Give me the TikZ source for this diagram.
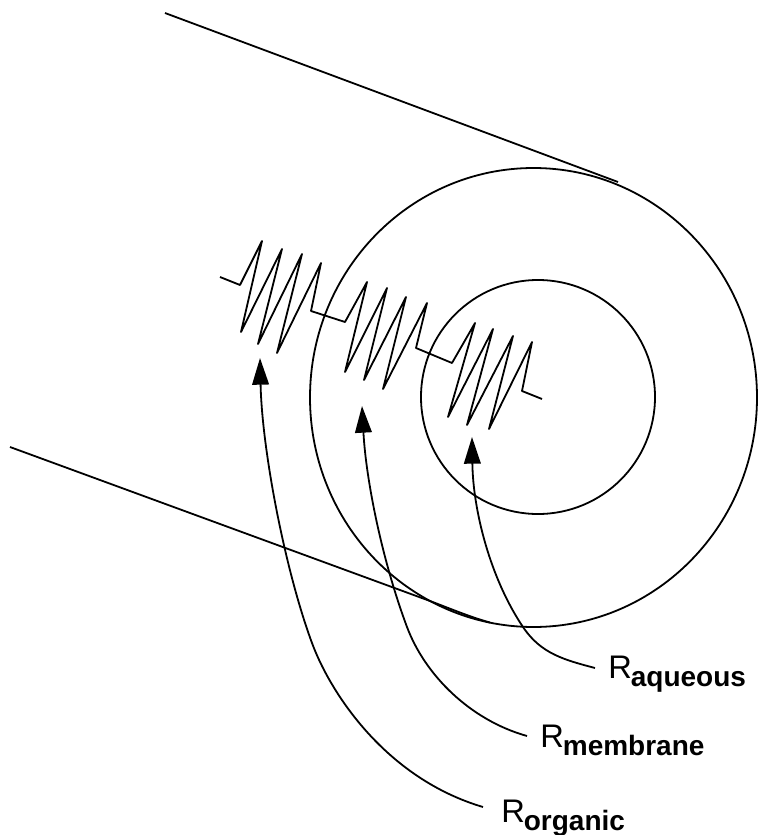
\documentclass[tikz,border=0pt]{standalone}
\usepackage{fontspec}
\setmainfont{Liberation Sans}
\usetikzlibrary{arrows.meta}
\tikzset{
  px/.style={x=0.75pt,y=-0.75pt},
  ink/.style={draw=black,line width=1.35pt,line join=round},
  pointer/.style={draw=black,line width=1.35pt,{Triangle[length=20pt,width=12.5pt,fill=black]}-},
  lab/.style={anchor=base west,inner sep=0pt,font=\fontsize{24.5}{28}\selectfont}
}
\newcommand{\labtext}[1]{R\kern-0.75pt\raisebox{-6pt}{\fontsize{21}{24}\selectfont\textbf{#1}}}
\begin{document}
\begin{tikzpicture}[px]
\useasboundingbox (0,0) rectangle (768,835);
% circles
\draw[ink] (533.5,397.5) ellipse [x radius=223.5,y radius=229.5];
\draw[ink] (538,397) ellipse [x radius=117,y radius=117];
% cylinder edges
\draw[ink] (165,13) -- (618,182);
\draw[ink] (10,447) -- (430,601) .. controls (450,608.5) and (470,617) .. (490,622.5);
% springs
\draw[ink] (220,277) -- (240,285) -- (262,241) -- (241,332) -- (282,249) -- (258,344) -- (302,254) -- (277,353) -- (321,263) -- (311,311) -- (345,322)
  -- (367,282) -- (345,372) -- (387,288) -- (364,380) -- (406,297) -- (383,389) -- (427,303) -- (416,348) -- (452,363)
  -- (475,323) -- (448,417) -- (493,329) -- (467,425) -- (513,336) -- (489,429) -- (532,342) -- (522,391) -- (542,399);
% labels
\node[lab] (raq) at (608,678) {\labtext{aqueous}};
\node[lab] (rme) at (540,747) {\labtext{membrane}};
\node[lab] (ror) at (501,822) {\labtext{organic}};
% targets and tails
\coordinate (taq) at (472,437);
\coordinate (tme) at (362,406);
\coordinate (tor) at (260,358);
\coordinate (eaq) at (595,668);
\coordinate (eme) at (527,736);
\coordinate (eor) at (483,807);
\draw[pointer] (taq) .. controls (473,510) and (490,578) .. (523,627) .. controls (541,654) and (565,660) .. (eaq);
\draw[pointer] (tme) .. controls (366,480) and (382,560) .. (407,627) .. controls (425,675) and (470,720) .. (eme);
\draw[pointer] (tor) .. controls (262,450) and (285,570) .. (312,643) .. controls (330,692) and (385,778) .. (eor);
\end{tikzpicture}
\end{document}
